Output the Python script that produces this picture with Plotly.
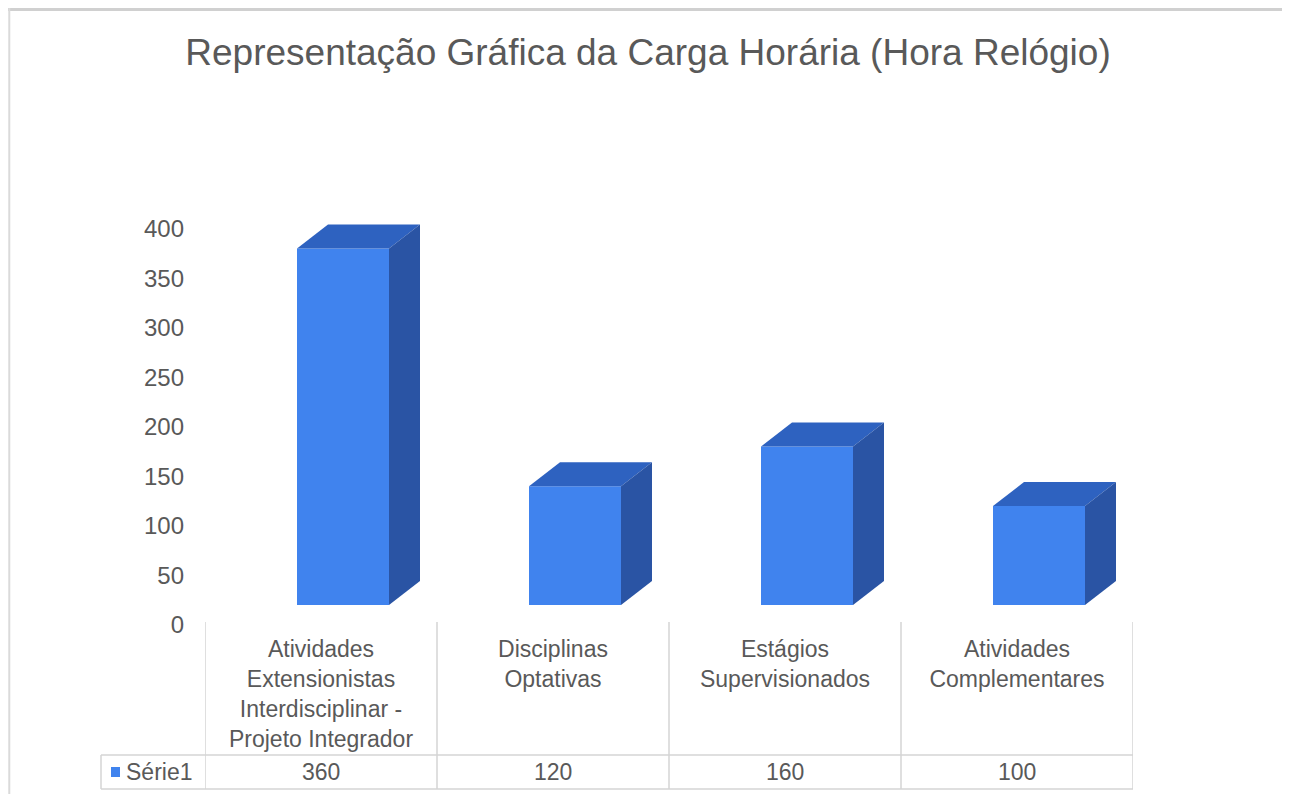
import plotly.graph_objects as go

# ---- data ----
categories = [
    "Atividades<br>Extensionistas<br>Interdisciplinar -<br>Projeto Integrador",
    "Disciplinas<br>Optativas",
    "Estágios<br>Supervisionados",
    "Atividades<br>Complementares",
]
series_name = "Série1"
values = [360, 120, 160, 100]
y_ticks = [0, 50, 100, 150, 200, 250, 300, 350, 400]
title_text = "Representação Gráfica da Carga Horária (Hora Relógio)"

# ---- style ----
PAGE_MARGIN = 8  # browser default body margin
W, H = 1290 - 2 * PAGE_MARGIN, 802 - 2 * PAGE_MARGIN
FRONT = "#4083EE"
TOP = "#2E62C0"
SIDE = "#2A54A4"
TXT = "#595959"
GRID = "#D4D4D4"
FONT = "Liberation Sans, Arial, sans-serif"
FS = 23


def fx(px):
    return min(max((px - PAGE_MARGIN) / W, 0), 1)


def fy(py):
    return min(max(1 - (py - PAGE_MARGIN) / H, 0), 1)


X_PX_PER_UNIT = 232.0
Y_PX_PER_UNIT = 396.0 / 400.0
BW = 92 / X_PX_PER_UNIT          # front face width (x units)
OFF = -24 / X_PX_PER_UNIT        # offset of front face from category centre
DX = 31 / X_PX_PER_UNIT          # depth in x
DY = 24 / Y_PX_PER_UNIT          # depth in y

idx = list(range(len(categories)))

fig = go.Figure()

# invisible trace so the labelled y axis is drawn
fig.add_trace(go.Scatter(x=idx, y=values, mode="markers", marker=dict(opacity=0),
                         xaxis="x", yaxis="y", hoverinfo="skip"))

fig.add_trace(go.Bar(
    x=idx, y=values, width=[BW] * len(idx), offset=OFF,
    marker=dict(color=FRONT, line=dict(width=0)),
    xaxis="x", yaxis="y2", name=series_name, hoverinfo="skip",
))

for i, v in zip(idx, values):
    xl = i + OFF
    xr = xl + BW
    fig.add_trace(go.Scatter(
        x=[xl, xr, xr + DX, xl + DX, xl],
        y=[v, v, v + DY, v + DY, v],
        fill="toself", fillcolor=TOP, mode="lines", line=dict(width=0),
        xaxis="x", yaxis="y2", hoverinfo="skip",
    ))
    fig.add_trace(go.Scatter(
        x=[xr, xr + DX, xr + DX, xr, xr],
        y=[0, DY, v + DY, v, 0],
        fill="toself", fillcolor=SIDE, mode="lines", line=dict(width=0),
        xaxis="x", yaxis="y2", hoverinfo="skip",
    ))

# data table lines
shapes = []
for b in [i - 0.5 for i in idx] + [idx[-1] + 0.5]:
    shapes.append(dict(type="line", xref="x", yref="paper", x0=b, x1=b,
                       y0=fy(622), y1=fy(789), line=dict(color=GRID, width=1.5)))
for yy in (755, 789):
    shapes.append(dict(type="line", xref="paper", yref="paper", x0=fx(101), x1=fx(1133),
                       y0=fy(yy), y1=fy(yy), line=dict(color=GRID, width=1.5)))
shapes.append(dict(type="line", xref="paper", yref="paper", x0=fx(101), x1=fx(101),
                   y0=fy(755), y1=fy(789), line=dict(color=GRID, width=1.5)))
# legend key
shapes.append(dict(type="rect", xref="paper", yref="paper", x0=fx(111), x1=fx(120),
                   y0=fy(767), y1=fy(777), fillcolor=FRONT, line=dict(width=0)))
# outer border (top and left visible)
shapes.append(dict(type="line", xref="paper", yref="paper", x0=0, x1=1,
                   y0=0.998, y1=0.998, line=dict(color="#D0D0D0", width=3)))
shapes.append(dict(type="line", xref="paper", yref="paper", x0=0.001, x1=0.001,
                   y0=0, y1=1, line=dict(color="#DADADA", width=2)))

annotations = []
for i, v in zip(idx, values):
    annotations.append(dict(x=i, xref="x", y=fy(772), yref="paper", text=str(v),
                            yanchor="middle", showarrow=False,
                            font=dict(size=FS, color=TXT, family=FONT)))
annotations.append(dict(x=fx(124), xref="paper", y=fy(772), yref="paper", text=series_name,
                        xanchor="left", yanchor="middle", showarrow=False,
                        font=dict(size=FS, color=TXT, family=FONT)))

fig.update_layout(
    width=W, height=H,
    margin=dict(l=0, r=0, t=0, b=0, pad=0, autoexpand=False),
    paper_bgcolor="white", plot_bgcolor="rgba(0,0,0,0)",
    showlegend=False,
    title=dict(text=title_text, x=(648 - PAGE_MARGIN) / W, xanchor="center",
               y=fy(52), yanchor="middle", automargin=False,
               font=dict(size=37, color=TXT, family=FONT)),
    xaxis=dict(domain=[fx(205), fx(1133)], range=[-0.5, len(idx) - 0.5],
               tickvals=idx, ticktext=categories, showgrid=False, zeroline=False,
               showline=False, ticks="", anchor="y", fixedrange=True, automargin=False,
               ticklabelstandoff=8,
               tickfont=dict(size=FS, color=TXT, family=FONT)),
    yaxis=dict(domain=[fy(625), fy(229)], range=[0, 400], tickvals=y_ticks,
               showgrid=False, zeroline=False, showline=False, ticks="",
               ticklabelstandoff=20, anchor="x", fixedrange=True, automargin=False,
               tickfont=dict(size=FS + 1, color=TXT, family=FONT)),
    yaxis2=dict(domain=[fy(605), fy(209)], range=[0, 400], visible=False, anchor="x",
                automargin=False),
    shapes=shapes,
    annotations=annotations,
)

fig.write_html("out.html")
